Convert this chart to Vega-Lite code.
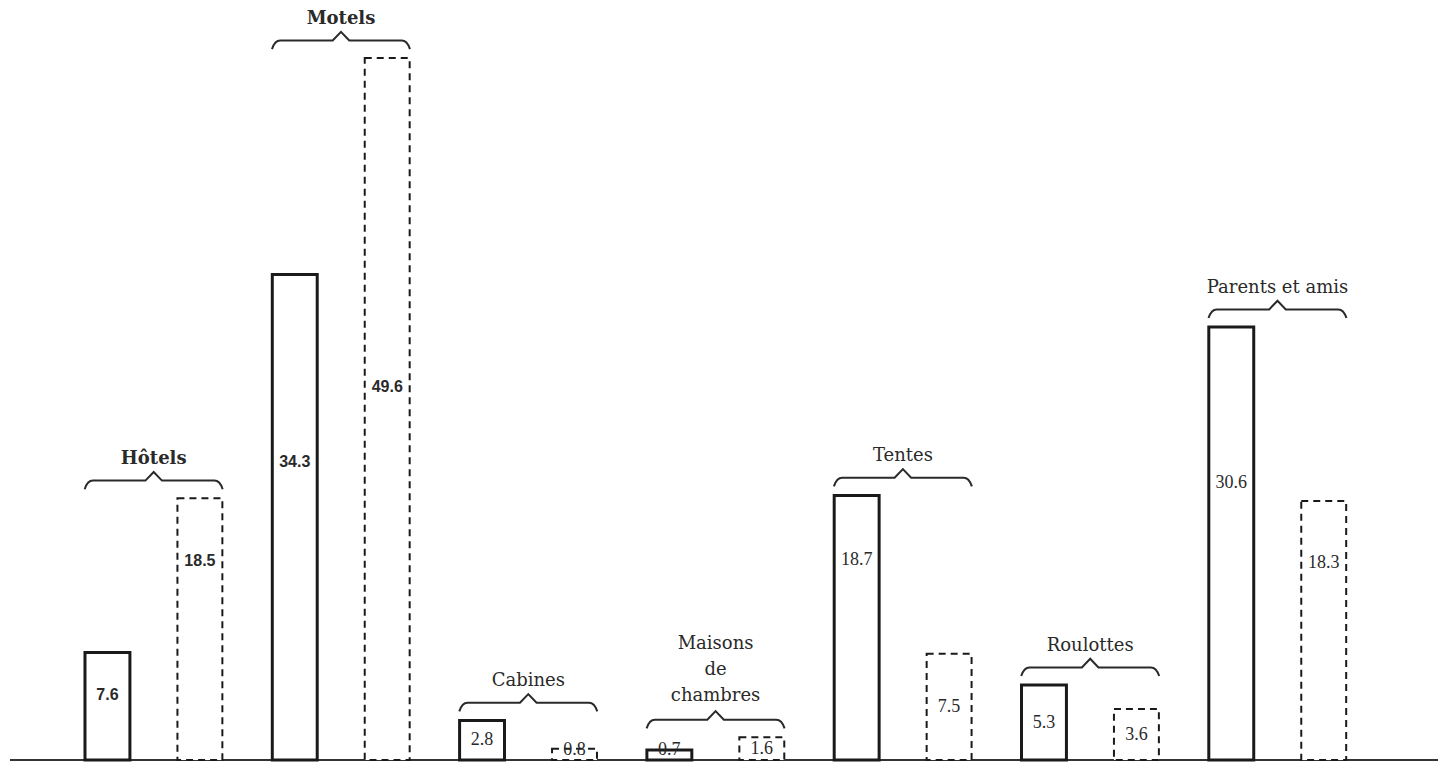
{
  "$schema": "https://vega.github.io/schema/vega-lite/v6.json",
  "width": 1428,
  "height": 750,
  "autosize": {"type": "none"},
  "padding": {"left": 10, "right": 0, "top": 10, "bottom": 7},
  "background": "white",
  "config": {"view": {"stroke": null}},
  "data": {
    "values": [
      {"group": "Hôtels", "series": "solid", "value": 7.6},
      {"group": "Hôtels", "series": "dashed", "value": 18.5},
      {"group": "Motels", "series": "solid", "value": 34.3},
      {"group": "Motels", "series": "dashed", "value": 49.6},
      {"group": "Cabines", "series": "solid", "value": 2.8},
      {"group": "Cabines", "series": "dashed", "value": 0.8},
      {"group": "Maisons\nde\nchambres", "series": "solid", "value": 0.7},
      {"group": "Maisons\nde\nchambres", "series": "dashed", "value": 1.6},
      {"group": "Tentes", "series": "solid", "value": 18.7},
      {"group": "Tentes", "series": "dashed", "value": 7.5},
      {"group": "Roulottes", "series": "solid", "value": 5.3},
      {"group": "Roulottes", "series": "dashed", "value": 3.6},
      {"group": "Parents et amis", "series": "solid", "value": 30.6},
      {"group": "Parents et amis", "series": "dashed", "value": 18.3}
    ]
  },
  "layer": [
    {
      "mark": {"type": "rule", "stroke": "#333", "strokeWidth": 2},
      "encoding": {"y": {"datum": 0, "type": "quantitative", "scale": {"domain": [0, 53], "nice": false, "zero": true}, "axis": null}}
    },
    {
      "mark": {"type": "bar", "fill": "white", "stroke": "#1a1a1a"},
      "encoding": {
        "x": {"field": "group", "type": "nominal", "axis": null, "scale": {"domain": ["Hôtels", "Motels", "Cabines", "Maisons\nde\nchambres", "Tentes", "Roulottes", "Parents et amis"], "paddingInner": 0, "paddingOuter": 0.312, "align": 0.428}},
        "xOffset": {"field": "series", "type": "nominal", "scale": {"domain": ["solid", "dashed"], "paddingInner": 0.514, "paddingOuter": 0.27}},
        "y": {"field": "value", "type": "quantitative", "scale": {"domain": [0, 53], "nice": false}},
        "strokeDash": {"condition": {"test": "datum.series == 'dashed'", "value": [7, 5]}, "value": [1, 0]},
        "strokeWidth": {"condition": {"test": "datum.series == 'dashed'", "value": 2}, "value": 3}
      }
    },
    {
      "transform": [
        {"filter": "datum.group == 'Hôtels' || datum.group == 'Motels'"},
        {"calculate": "datum.value > 15 ? 4.5 * sqrt(datum.value) - 5.3 : max(datum.value * 0.6, 0.7)", "as": "labelPos"}
      ],
      "mark": {"type": "text", "font": "Liberation Sans", "fontWeight": "bold", "fontSize": 16, "fill": "#2a2a2a", "baseline": "middle"},
      "encoding": {
        "x": {"field": "group", "type": "nominal"},
        "xOffset": {"field": "series", "type": "nominal"},
        "y": {"field": "labelPos", "type": "quantitative"},
        "text": {"field": "value", "type": "quantitative", "format": ".1f"}
      }
    },
    {
      "transform": [
        {"filter": "datum.group != 'Hôtels' && datum.group != 'Motels'"},
        {"calculate": "datum.value > 15 ? 4.5 * sqrt(datum.value) - 5.3 : max(datum.value * 0.5, 0.7)", "as": "labelPos"}
      ],
      "mark": {"type": "text", "font": "Liberation Serif", "fontSize": 18, "fill": "#2a2a2a", "baseline": "middle"},
      "encoding": {
        "x": {"field": "group", "type": "nominal"},
        "xOffset": {"field": "series", "type": "nominal"},
        "y": {"field": "labelPos", "type": "quantitative"},
        "text": {"field": "value", "type": "quantitative", "format": ".1f"}
      }
    },
    {
      "mark": {
        "type": "point",
        "shape": "M-1,-0.13 Q-0.96,-0.255 -0.88,-0.255 L-0.12,-0.255 L0,-0.38 L0.12,-0.255 L0.88,-0.255 Q0.96,-0.255 1,-0.13",
        "size": 19044,
        "filled": false,
        "stroke": "#2a2a2a",
        "strokeWidth": 2,
        "opacity": 1
      },
      "encoding": {
        "x": {"field": "group", "type": "nominal"},
        "y": {"aggregate": "max", "field": "value", "type": "quantitative"}
      }
    },
    {
      "transform": [{"filter": "datum.group == 'Hôtels' || datum.group == 'Motels'"}],
      "mark": {"type": "text", "font": "DejaVu Serif", "fontWeight": "bold", "fontSize": 18, "fill": "#2a2a2a", "baseline": "bottom", "dy": -30},
      "encoding": {
        "x": {"field": "group", "type": "nominal"},
        "y": {"aggregate": "max", "field": "value", "type": "quantitative"},
        "text": {"field": "group", "type": "nominal"}
      }
    },
    {
      "transform": [{"filter": "datum.group != 'Hôtels' && datum.group != 'Motels' && indexof(datum.group, 'Maisons') < 0"}],
      "mark": {"type": "text", "font": "DejaVu Serif", "fontSize": 18, "fill": "#2a2a2a", "baseline": "bottom", "dy": -30},
      "encoding": {
        "x": {"field": "group", "type": "nominal"},
        "y": {"aggregate": "max", "field": "value", "type": "quantitative"},
        "text": {"field": "group", "type": "nominal"}
      }
    },
    {
      "transform": [{"filter": "indexof(datum.group, 'Maisons') == 0"}],
      "mark": {"type": "text", "font": "DejaVu Serif", "fontSize": 18, "fill": "#2a2a2a", "baseline": "bottom", "dy": -84, "lineBreak": "\n", "lineHeight": 26},
      "encoding": {
        "x": {"field": "group", "type": "nominal"},
        "y": {"aggregate": "max", "field": "value", "type": "quantitative"},
        "text": {"field": "group", "type": "nominal"}
      }
    }
  ]
}
